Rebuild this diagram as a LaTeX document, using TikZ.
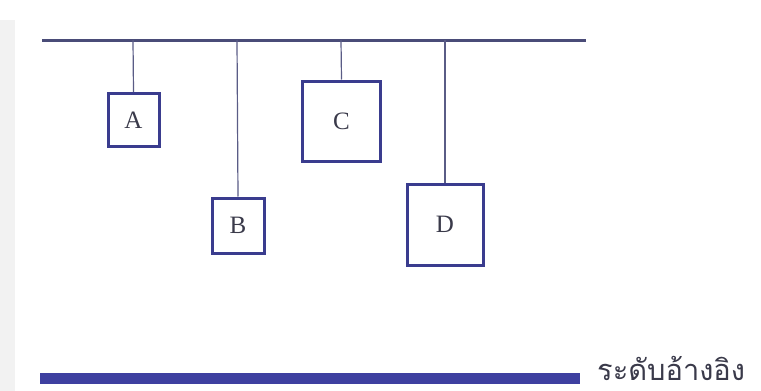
\documentclass[tikz,border=0pt]{standalone}
\usepackage{fontspec}
\setmainfont{Liberation Serif}
\newfontfamily\thaifont[Script=Thai]{Loma}
\definecolor{boxblue}{HTML}{3A3C8E}
\definecolor{wireblue}{HTML}{5A5C86}
\definecolor{busline}{HTML}{4A4C78}
\definecolor{barblue}{HTML}{3E40A0}
\definecolor{txtgray}{HTML}{3A3A4A}
\begin{document}
\begin{tikzpicture}[x=1pt,y=-1pt,
  unit/.style={draw=boxblue, line width=3pt, inner sep=0pt, font=\fontsize{25}{25}\selectfont, text=txtgray},
  wire/.style={draw=wireblue, line width=1.2pt}]
\useasboundingbox (0,0) rectangle (761,391);
\fill[white] (0,0) rectangle (761,391);
\fill[black!5] (0,20) rectangle (15,391);
% bus line
\coordinate (busL) at (42,40);
\coordinate (busR) at (586,40);
\draw[busline, line width=3pt] (busL) -- (busR);
% boxes
\node[unit, minimum width=51pt, minimum height=53pt] (A) at (133.5,120) {A};
\node[unit, minimum width=52pt, minimum height=55pt] (B) at (238,225.5) {B};
\node[unit, minimum width=78pt, minimum height=80pt] (C) at (341.5,121) {C};
\node[unit, minimum width=76pt, minimum height=81pt] (D) at (445,224.5) {D};
% tap points
\coordinate (tA) at (133,40);
\coordinate (tB) at (237,40);
\coordinate (tC) at (341,40);
\coordinate (tD) at (445,40);
\draw[wire] (tA) -- (A.north);
\draw[wire] (tB) -- (B.north);
\draw[wire] (tC) -- (C.north);
\draw[wire] (tD) -- (D.north);
% reference level
\fill[barblue] (40,373) rectangle (580,384);
\node[anchor=base west, inner sep=0pt, text depth=0pt, text=txtgray] (ref) at (597,380)
  {\thaifont\fontsize{29}{29}\selectfont ระดับอ้างอิง};
\end{tikzpicture}
\end{document}
